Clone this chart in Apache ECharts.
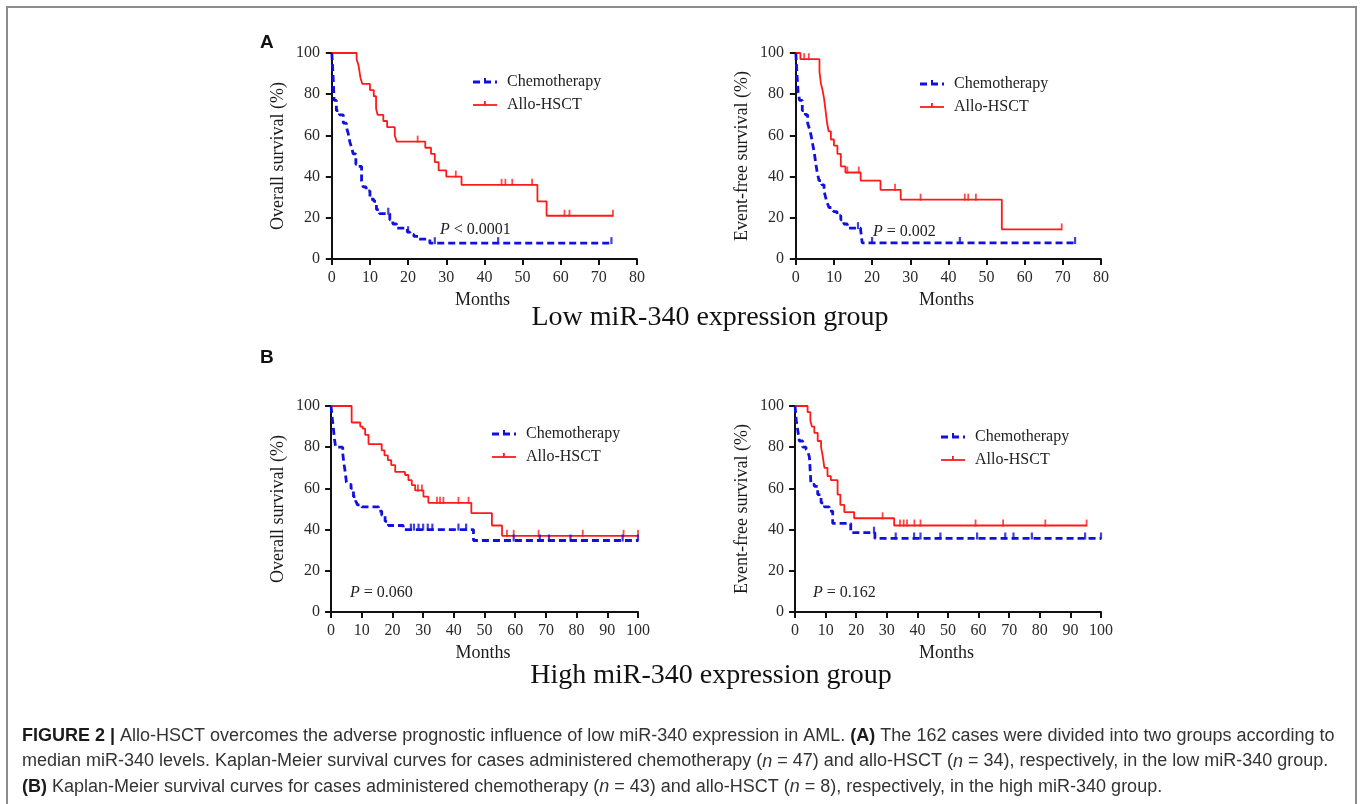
<!DOCTYPE html>
<html>
<head>
<meta charset="utf-8">
<script src="https://cdn.jsdelivr.net/npm/echarts@6/dist/echarts.min.js"></script>
<style>
  html, body { margin: 0; padding: 0; background: #fff; }
  #main { width: 1360px; height: 804px; }
</style>
</head>
<body>
<div id="main"></div>
<script>
// tick labels
var lowMonthTicks = [0, 10, 20, 30, 40, 50, 60, 70, 80];
var highMonthTicks = [0, 10, 20, 30, 40, 50, 60, 70, 80, 90, 100];

// (A) low miR-340 - overall survival
var lowOsChemoT = [0, 0.3, 0.6, 1.2, 2.0, 3.0, 3.8, 4.3, 4.7, 5.2, 5.6, 6.3, 7.0, 7.8, 8.2, 9.0, 10.0, 11.0, 11.7, 12.5, 15.2, 16.0, 17.0, 19.8, 20.5, 21.5, 22.6, 25.7, 73.3];
var lowOsChemoS = [100, 90, 77, 72, 70, 66, 64, 61, 57, 54, 51, 46, 45, 38, 35, 33, 29, 28, 24, 22, 19, 17, 15, 13, 12, 11, 9.6, 7.7, 7.7];
var lowOsChemoCensor = [14.8, 20.0, 27.0, 43.6, 73.3];
var lowOsAlloT = [0, 6.5, 7.0, 7.5, 8.0, 10.0, 11.0, 11.6, 12.0, 13.5, 14.5, 16.5, 17.0, 24.5, 26.0, 27.0, 28.0, 30.0, 34.0, 53.9, 56.3, 73.7];
var lowOsAlloS = [100, 97, 94, 88, 85, 82, 79, 73, 70, 67, 64, 60, 57, 54, 51, 47, 43, 40, 36, 28, 21, 21];
var lowOsAlloCensor = [22.5, 32.5, 44.5, 45.5, 47.3, 52.5, 61.0, 62.3, 73.7];

// (A) low miR-340 - event-free survival
var lowEfsChemoT = [0, 0.3, 0.6, 1.0, 1.7, 2.5, 3.1, 3.6, 4.0, 4.4, 4.8, 5.2, 5.6, 6.1, 6.8, 7.4, 7.8, 8.3, 8.7, 9.5, 10.0, 10.8, 11.8, 12.6, 13.5, 17.0, 17.4, 73.2];
var lowEfsChemoS = [100, 90, 81, 77, 72, 70, 66, 63, 60, 56, 52, 47, 42, 38, 36, 33, 30, 27, 25, 24, 23, 21, 19, 17, 15, 14, 7.8, 7.8];
var lowEfsChemoCensor = [16.3, 20.0, 43.0, 73.2];
var lowEfsAlloT = [0, 1.2, 6.2, 6.6, 7.0, 7.4, 7.8, 8.2, 8.6, 9.2, 10.0, 10.9, 11.8, 13.0, 17.0, 22.2, 27.5, 54.0, 69.7];
var lowEfsAlloS = [100, 97, 91, 85, 82, 78, 72, 66, 62, 58, 55, 51, 45, 42, 38, 33.6, 28.8, 14.4, 14.4];
var lowEfsAlloCensor = [2.2, 3.4, 13.5, 16.5, 26.0, 32.7, 44.3, 45.2, 47.2, 69.7];

// (B) high miR-340 - overall survival
var highOsChemoT = [0, 0.3, 0.7, 1.1, 1.5, 3.8, 4.2, 4.6, 5.0, 5.6, 6.5, 7.3, 8.0, 8.6, 10.0, 15.5, 16.5, 17.6, 18.7, 23.5, 46.4, 100];
var highOsChemoS = [100, 95, 90, 84, 80, 77, 72, 68, 63, 62, 60, 56, 54, 52, 51, 49, 47, 44, 42, 40, 34.7, 34.7];
var highOsChemoCensor = [26, 27, 28.5, 30, 31.5, 33, 41.5, 44, 59.5, 68, 71, 78, 95, 100];
var highOsAlloT = [0, 6.7, 9.5, 10.3, 11.1, 12.2, 16.5, 17.4, 18.5, 19.6, 20.9, 24.1, 25.2, 26.3, 27.4, 30.1, 31.7, 45.7, 52.4, 55.7, 100];
var highOsAlloS = [100, 92, 90, 89, 86, 81.5, 78.5, 76, 73.7, 71.3, 68, 66.5, 64, 61.6, 59, 56, 53, 48, 42, 37, 37];
var highOsAlloCensor = [28.3, 29.6, 34.5, 35.5, 36.6, 41.5, 44.8, 57.3, 59.5, 67.6, 82, 95.3, 100];

// (B) high miR-340 - event-free survival
var highEfsChemoT = [0, 0.4, 0.9, 1.4, 2.5, 3.6, 4.2, 4.7, 5.2, 6.3, 7.4, 8.5, 9.6, 11.2, 12.3, 18.2, 26.1, 100];
var highEfsChemoS = [100, 93, 88, 83, 80, 79, 78, 75, 62, 61, 57, 53, 51, 49, 43, 38.5, 35.7, 35.7];
var highEfsChemoCensor = [25.8, 32.9, 38.9, 41, 47.5, 59.5, 68.7, 71.4, 77.4, 94.8, 100];
var highEfsAlloT = [0, 4.1, 5.0, 5.5, 6.3, 7.4, 8.5, 9.0, 9.6, 10.6, 11.7, 13.9, 14.8, 16.1, 19.3, 32.4, 95.3];
var highEfsAlloS = [100, 97, 93, 90, 87, 83, 80, 76, 70, 66, 64, 57, 52, 48.5, 45.5, 42, 42];
var highEfsAlloCensor = [3, 28.6, 34.3, 35.5, 36.6, 39, 41, 59, 68, 81.8, 95.3];

var BLUE = '#1010e0';
var RED = '#ff1a1a';
var SERIF = '"Liberation Serif", "Times New Roman", serif';
var SANS = '"Liberation Sans", Arial, sans-serif';

// value of a step curve at time t
function stepAt(t, T, S) {
  var v = S[0];
  for (var i = 0; i < T.length; i++) {
    if (T[i] <= t) v = S[i];
  }
  return v;
}

function curve(idx, T, S, censor, chemo) {
  var color = chemo ? BLUE : RED;
  return [
    {
      type: 'line', step: 'end', xAxisIndex: idx, yAxisIndex: idx,
      symbol: 'none', silent: true, z: chemo ? 3 : 2,
      data: T.map(function (t, i) { return [t, S[i]]; }),
      lineStyle: { color: color, width: chemo ? 2.8 : 1.8, type: chemo ? [7, 4] : 'solid' }
    },
    {
      type: 'scatter', xAxisIndex: idx, yAxisIndex: idx,
      symbol: 'rect', symbolSize: chemo ? [2.2, 7] : [1.8, 7], silent: true, z: chemo ? 3 : 2,
      data: censor.map(function (t) { return [t, stepAt(t, T, S) + 1.2]; }),
      itemStyle: { color: color }
    }
  ];
}

var grids = [
  { left: 328, top: 53, width: 309, height: 206 },
  { left: 792, top: 53, width: 309, height: 206 },
  { left: 328, top: 406, width: 310, height: 206 },
  { left: 792, top: 406, width: 309, height: 206 }
];

var axisLineStyle = { color: '#111', width: 2 };

function xAxis(idx, max, ticks) {
  return {
    gridIndex: idx, type: 'value', min: -1, max: max,
    name: 'Months', nameLocation: 'middle', nameGap: 32,
    nameTextStyle: { fontFamily: SERIF, fontSize: 18, color: '#1a1a1a' },
    axisLine: { lineStyle: axisLineStyle },
    axisTick: { length: 6, lineStyle: axisLineStyle, customValues: ticks },
    axisLabel: { fontFamily: SERIF, fontSize: 16, color: '#2a2a2a', margin: 11, customValues: ticks },
    splitLine: { show: false }
  };
}

function yAxis(idx, name) {
  return {
    gridIndex: idx, type: 'value', min: 0, max: 100, interval: 20,
    name: name, nameLocation: 'middle', nameGap: 41,
    nameTextStyle: { fontFamily: SERIF, fontSize: 18, color: '#1a1a1a' },
    axisLine: { show: true, lineStyle: axisLineStyle },
    axisTick: { show: true, length: 6, lineStyle: axisLineStyle },
    axisLabel: { fontFamily: SERIF, fontSize: 16, color: '#2a2a2a', margin: 8 },
    splitLine: { show: false }
  };
}

function legend(x, y) {
  return [
    { type: 'line', shape: { x1: x, y1: y, x2: x + 24, y2: y }, style: { stroke: BLUE, lineWidth: 2.8, lineDash: [7, 4] } },
    { type: 'rect', shape: { x: x + 11, y: y - 4, width: 2, height: 4 }, style: { fill: BLUE } },
    { type: 'text', style: { x: x + 34, y: y, text: 'Chemotherapy', font: '16px ' + SERIF, fill: '#222', textVerticalAlign: 'middle' } },
    { type: 'line', shape: { x1: x, y1: y + 23, x2: x + 24, y2: y + 23 }, style: { stroke: RED, lineWidth: 1.8 } },
    { type: 'rect', shape: { x: x + 11, y: y + 19, width: 1.8, height: 4 }, style: { fill: RED } },
    { type: 'text', style: { x: x + 34, y: y + 23, text: 'Allo-HSCT', font: '16px ' + SERIF, fill: '#222', textVerticalAlign: 'middle' } }
  ];
}

function pText(x, y, rest) {
  return {
    type: 'text',
    style: {
      x: x, y: y, text: '{i|P}' + rest, font: '16px ' + SERIF, fill: '#222', textVerticalAlign: 'middle',
      rich: { i: { fontStyle: 'italic', fontFamily: SERIF, fontSize: 16, fill: '#222' } }
    }
  };
}

var capRich = {
  b: { fontWeight: 'bold', fontFamily: SANS, fontSize: 18, fill: '#1a1a1a' },
  i: { fontStyle: 'italic', fontFamily: SANS, fontSize: 18, fill: '#333' }
};
var capLines = [
  '{b|FIGURE 2 |} Allo-HSCT overcomes the adverse prognostic influence of low miR-340 expression in AML. {b|(A)} The 162 cases were divided into two groups according to',
  'median miR-340 levels. Kaplan-Meier survival curves for cases administered chemotherapy ({i|n} = 47) and allo-HSCT ({i|n} = 34), respectively, in the low miR-340 group.',
  '{b|(B)} Kaplan-Meier survival curves for cases administered chemotherapy ({i|n} = 43) and allo-HSCT ({i|n} = 8), respectively, in the high miR-340 group.'
];

var graphics = [
  { type: 'rect', shape: { x: 7, y: 7, width: 1349, height: 820 }, style: { fill: 'none', stroke: '#8c8c8c', lineWidth: 2 }, silent: true },
  { type: 'text', style: { x: 260, y: 43, text: 'A', font: 'bold 19px ' + SANS, fill: '#111', textVerticalAlign: 'middle' } },
  { type: 'text', style: { x: 260, y: 358, text: 'B', font: 'bold 19px ' + SANS, fill: '#111', textVerticalAlign: 'middle' } },
  { type: 'text', style: { x: 710, y: 318, text: 'Low miR-340 expression group', font: '28px ' + SERIF, fill: '#111', textAlign: 'center', textVerticalAlign: 'middle' } },
  { type: 'text', style: { x: 711, y: 676, text: 'High miR-340 expression group', font: '28px ' + SERIF, fill: '#111', textAlign: 'center', textVerticalAlign: 'middle' } },
  pText(440, 230, ' < 0.0001'),
  pText(873, 232, ' = 0.002'),
  pText(350, 593, ' = 0.060'),
  pText(813, 593, ' = 0.162')
].concat(legend(473, 82), legend(920, 84), legend(492, 434), legend(941, 437));

capLines.forEach(function (line, i) {
  graphics.push({
    type: 'text',
    style: {
      x: 22, y: 736 + i * 25.5, text: line, font: '18px ' + SANS,
      fill: '#333', textVerticalAlign: 'middle', rich: capRich
    }
  });
});

var series = [].concat(
  curve(0, lowOsAlloT, lowOsAlloS, lowOsAlloCensor, false),
  curve(0, lowOsChemoT, lowOsChemoS, lowOsChemoCensor, true),
  curve(1, lowEfsAlloT, lowEfsAlloS, lowEfsAlloCensor, false),
  curve(1, lowEfsChemoT, lowEfsChemoS, lowEfsChemoCensor, true),
  curve(2, highOsAlloT, highOsAlloS, highOsAlloCensor, false),
  curve(2, highOsChemoT, highOsChemoS, highOsChemoCensor, true),
  curve(3, highEfsAlloT, highEfsAlloS, highEfsAlloCensor, false),
  curve(3, highEfsChemoT, highEfsChemoS, highEfsChemoCensor, true)
);

var chart = echarts.init(document.getElementById('main'), null, { renderer: 'canvas' });
chart.setOption({
  backgroundColor: '#fff',
  animation: false,
  grid: grids,
  xAxis: [xAxis(0, 80, lowMonthTicks), xAxis(1, 80, lowMonthTicks), xAxis(2, 100, highMonthTicks), xAxis(3, 100, highMonthTicks)],
  yAxis: [yAxis(0, 'Overall survival (%)'), yAxis(1, 'Event-free survival (%)'), yAxis(2, 'Overall survival (%)'), yAxis(3, 'Event-free survival (%)')],
  series: series,
  graphic: graphics
});
</script>
</body>
</html>
